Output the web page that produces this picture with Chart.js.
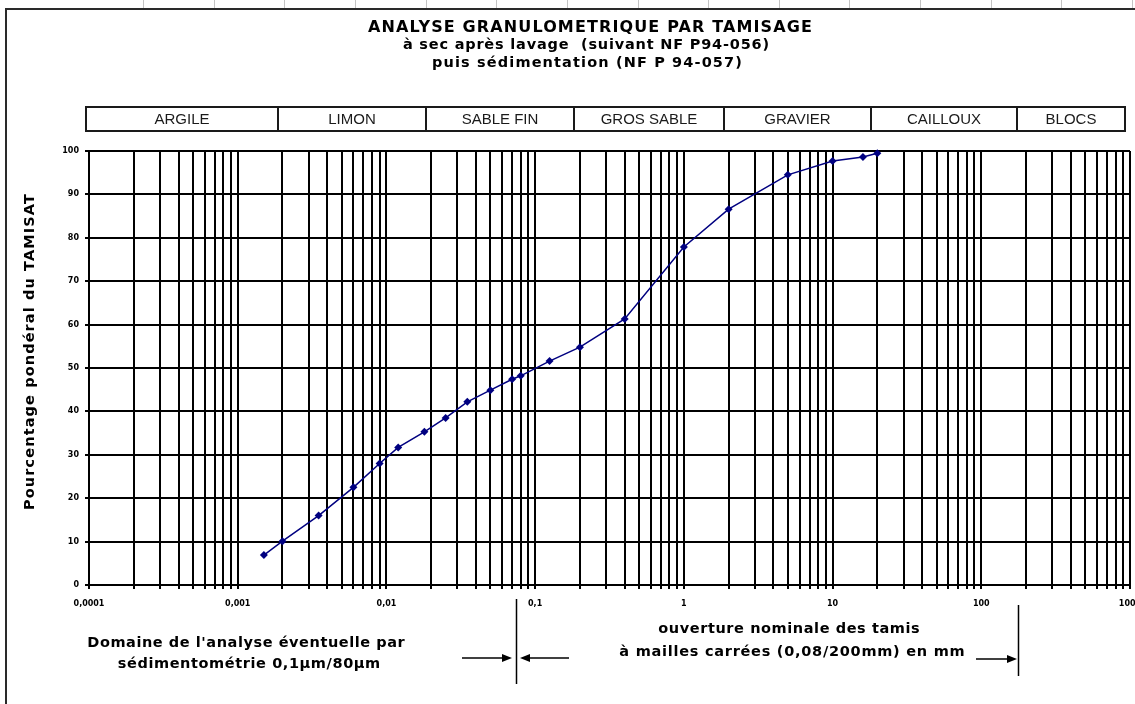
<!DOCTYPE html>
<html lang="fr">
<head>
<meta charset="utf-8">
<title>Analyse granulométrique par tamisage</title>
<script src="https://cdn.jsdelivr.net/npm/chart.js@4.4.1/dist/chart.umd.min.js"></script>
<style>
  html, body { margin: 0; padding: 0; background: #fff; overflow: hidden; }
  #granuloChart { display: block; }
</style>
</head>
<body>
<canvas id="granuloChart" width="1135" height="704"></canvas>
<script>
// ── Sieve openings (mm) and cumulative passing (%) ───────────
const openings = [0.0015, 0.002, 0.0035, 0.006, 0.009, 0.012, 0.018, 0.025, 0.035, 0.05, 0.07, 0.08,
                  0.125, 0.2, 0.4, 1, 2, 5, 10, 16, 20];
const passing  = [6.9, 10.1, 16.0, 22.5, 28.0, 31.7, 35.3, 38.5, 42.2, 44.9, 47.4, 48.2,
                  51.6, 54.8, 61.3, 77.9, 86.6, 94.5, 97.7, 98.6, 99.5];

// ── Axes ─────────────────────────────────────────────────────
const xDecades    = [0.0001, 0.001, 0.01, 0.1, 1, 10, 100, 1000];
const xTickLabels = ['0,0001', '0,001', '0,01', '0,1', '1', '10', '100', '1000'];
const yTickValues = [0, 10, 20, 30, 40, 50, 60, 70, 80, 90, 100];

// ── Soil classes shown in the header row ─────────────────────
const soilClasses = ['ARGILE', 'LIMON', 'SABLE FIN', 'GROS SABLE', 'GRAVIER', 'CAILLOUX', 'BLOCS'];

// ── Texts ────────────────────────────────────────────────────
const titleLines = [
  'ANALYSE GRANULOMETRIQUE PAR TAMISAGE',
  'à sec après lavage  (suivant NF P94-056)',
  'puis sédimentation (NF P 94-057)',
];
const yTitle = 'Pourcentage pondéral du TAMISAT';
const sedimentNote = ["Domaine de l'analyse éventuelle par", 'sédimentométrie 0,1µm/80µm'];
const sieveNote    = ['ouverture nominale des tamis', 'à mailles carrées (0,08/200mm) en mm'];

// log grid: 1..9 in every decade, plus the last decade line
const xGrid = xDecades.flatMap((d, i) =>
  i === xDecades.length - 1 ? [d] : [1, 2, 3, 4, 5, 6, 7, 8, 9].map(k => +(k * d).toPrecision(3)));

const INK = '#000';
const BOLD = '"DejaVu Sans", Verdana, sans-serif';

// draw centred text stretched/squeezed to a given width with letter spacing
function fitText(ctx, text, cx, cy, width) {
  ctx.letterSpacing = '0px';
  const w = ctx.measureText(text).width;
  const ls = (width - w) / [...text].length;
  ctx.letterSpacing = ls + 'px';
  ctx.textAlign = 'center';
  ctx.textBaseline = 'middle';
  ctx.fillText(text, cx + ls / 2, cy);
  ctx.letterSpacing = '0px';
}

function arrow(ctx, x0, x1, y) {
  const dir = Math.sign(x1 - x0);
  ctx.beginPath();
  ctx.moveTo(x0, y);
  ctx.lineTo(x1 - dir * 7, y);
  ctx.stroke();
  ctx.beginPath();
  ctx.moveTo(x1, y);
  ctx.lineTo(x1 - dir * 10, y - 4);
  ctx.lineTo(x1 - dir * 10, y + 4);
  ctx.closePath();
  ctx.fill();
}

// ── Sheet decoration: frame, titles, class row, notes ────────
const sheetDecor = {
  id: 'sheetDecor',
  beforeDraw(chart) {
    const ctx = chart.ctx;
    ctx.save();
    // spreadsheet column lines above the frame
    ctx.strokeStyle = '#c4c4c4';
    ctx.lineWidth = 1;
    for (let x = 143; x < 1135; x += 70.65) {
      ctx.beginPath();
      ctx.moveTo(Math.round(x) + 0.5, 0);
      ctx.lineTo(Math.round(x) + 0.5, 8);
      ctx.stroke();
    }
    // frame
    ctx.strokeStyle = '#2a2a2a';
    ctx.lineWidth = 2;
    ctx.beginPath();
    ctx.moveTo(1135, 9);
    ctx.lineTo(6, 9);
    ctx.lineTo(6, 704);
    ctx.stroke();

    // titles
    ctx.fillStyle = INK;
    ctx.font = `bold 16px ${BOLD}`;
    fitText(ctx, titleLines[0], 590, 28, 445);
    ctx.font = `bold 14.5px ${BOLD}`;
    fitText(ctx, titleLines[1], 586, 45, 367);
    fitText(ctx, titleLines[2], 587, 63, 311);

    // class row
    const edges = [86, 278, 426, 574, 724, 871, 1017, 1125];
    ctx.strokeStyle = '#1a1a1a';
    ctx.lineWidth = 2;
    ctx.strokeRect(86, 107, 1125 - 86, 24);
    ctx.font = '15px "Liberation Sans", Arial, sans-serif';
    ctx.textAlign = 'center';
    ctx.textBaseline = 'middle';
    soilClasses.forEach((name, i) => {
      if (i > 0) {
        ctx.beginPath();
        ctx.moveTo(edges[i], 107);
        ctx.lineTo(edges[i], 131);
        ctx.stroke();
      }
      ctx.fillStyle = '#1a1a1a';
      ctx.fillText(name, (edges[i] + edges[i + 1]) / 2, 120);
    });
    ctx.restore();
  },
  afterDraw(chart) {
    const ctx = chart.ctx;
    ctx.save();
    ctx.fillStyle = INK;
    ctx.strokeStyle = INK;

    // y axis title
    ctx.save();
    ctx.translate(30, 352);
    ctx.rotate(-Math.PI / 2);
    ctx.font = `bold 14.5px ${BOLD}`;
    fitText(ctx, yTitle, 0, 0, 317);
    ctx.restore();

    // notes under the axis
    ctx.font = `bold 14.5px ${BOLD}`;
    fitText(ctx, sedimentNote[0], 246, 643, 318);
    fitText(ctx, sedimentNote[1], 249, 664, 263);
    fitText(ctx, sieveNote[0], 789, 629, 262);
    fitText(ctx, sieveNote[1], 792, 652, 346);

    // 80 µm limit and 200 mm limit
    ctx.lineWidth = 1.5;
    ctx.beginPath();
    ctx.moveTo(516.5, 599); ctx.lineTo(516.5, 684);
    ctx.moveTo(1018.5, 605); ctx.lineTo(1018.5, 676);
    ctx.stroke();
    arrow(ctx, 462, 512, 658);
    arrow(ctx, 569, 520, 658);
    arrow(ctx, 976, 1017, 659);
    ctx.restore();
  },
};

// ── Grading curve ────────────────────────────────────────────
new Chart(document.getElementById('granuloChart'), {
  type: 'line',
  data: {
    datasets: [{
      label: 'Tamisat',
      data: openings.map((x, i) => ({ x, y: passing[i] })),
      borderColor: '#000080',
      backgroundColor: '#000080',
      borderWidth: 1.5,
      pointStyle: 'rectRot',
      pointRadius: 4,
      pointBorderWidth: 0,
      tension: 0,
      clip: false,
    }],
  },
  options: {
    responsive: false,
    animation: false,
    events: [],
    layout: { padding: { top: 151, left: 0, right: 5, bottom: 89 } },
    plugins: {
      legend: { display: false },
      tooltip: { enabled: false },
    },
    scales: {
      x: {
        type: 'logarithmic',
        min: 0.0001,
        max: 1000,
        afterBuildTicks: s => { s.ticks = xGrid.map(value => ({ value })); },
        afterFit: s => { s.height = 30; s.paddingLeft = 0; s.paddingRight = 0; },
        grid: { color: INK, lineWidth: 2, tickLength: 4 },
        border: { color: INK, width: 2 },
        ticks: {
          autoSkip: false,
          maxRotation: 0,
          padding: 10,
          color: INK,
          font: { family: 'DejaVu Sans', size: 8, weight: 'bold' },
          callback: v => {
            const i = xDecades.findIndex(d => Math.abs(d - v) < d * 1e-6);
            return i >= 0 ? xTickLabels[i] : '';
          },
        },
      },
      y: {
        min: 0,
        max: 100,
        afterBuildTicks: s => { s.ticks = yTickValues.map(value => ({ value })); },
        afterFit: s => { s.width = 89; },
        grid: { color: INK, lineWidth: 2, tickLength: 4 },
        border: { color: INK, width: 2 },
        ticks: {
          padding: 6,
          color: INK,
          font: { family: 'DejaVu Sans', size: 8, weight: 'bold' },
          callback: v => String(v),
        },
      },
    },
  },
  plugins: [sheetDecor],
});
</script>
</body>
</html>
